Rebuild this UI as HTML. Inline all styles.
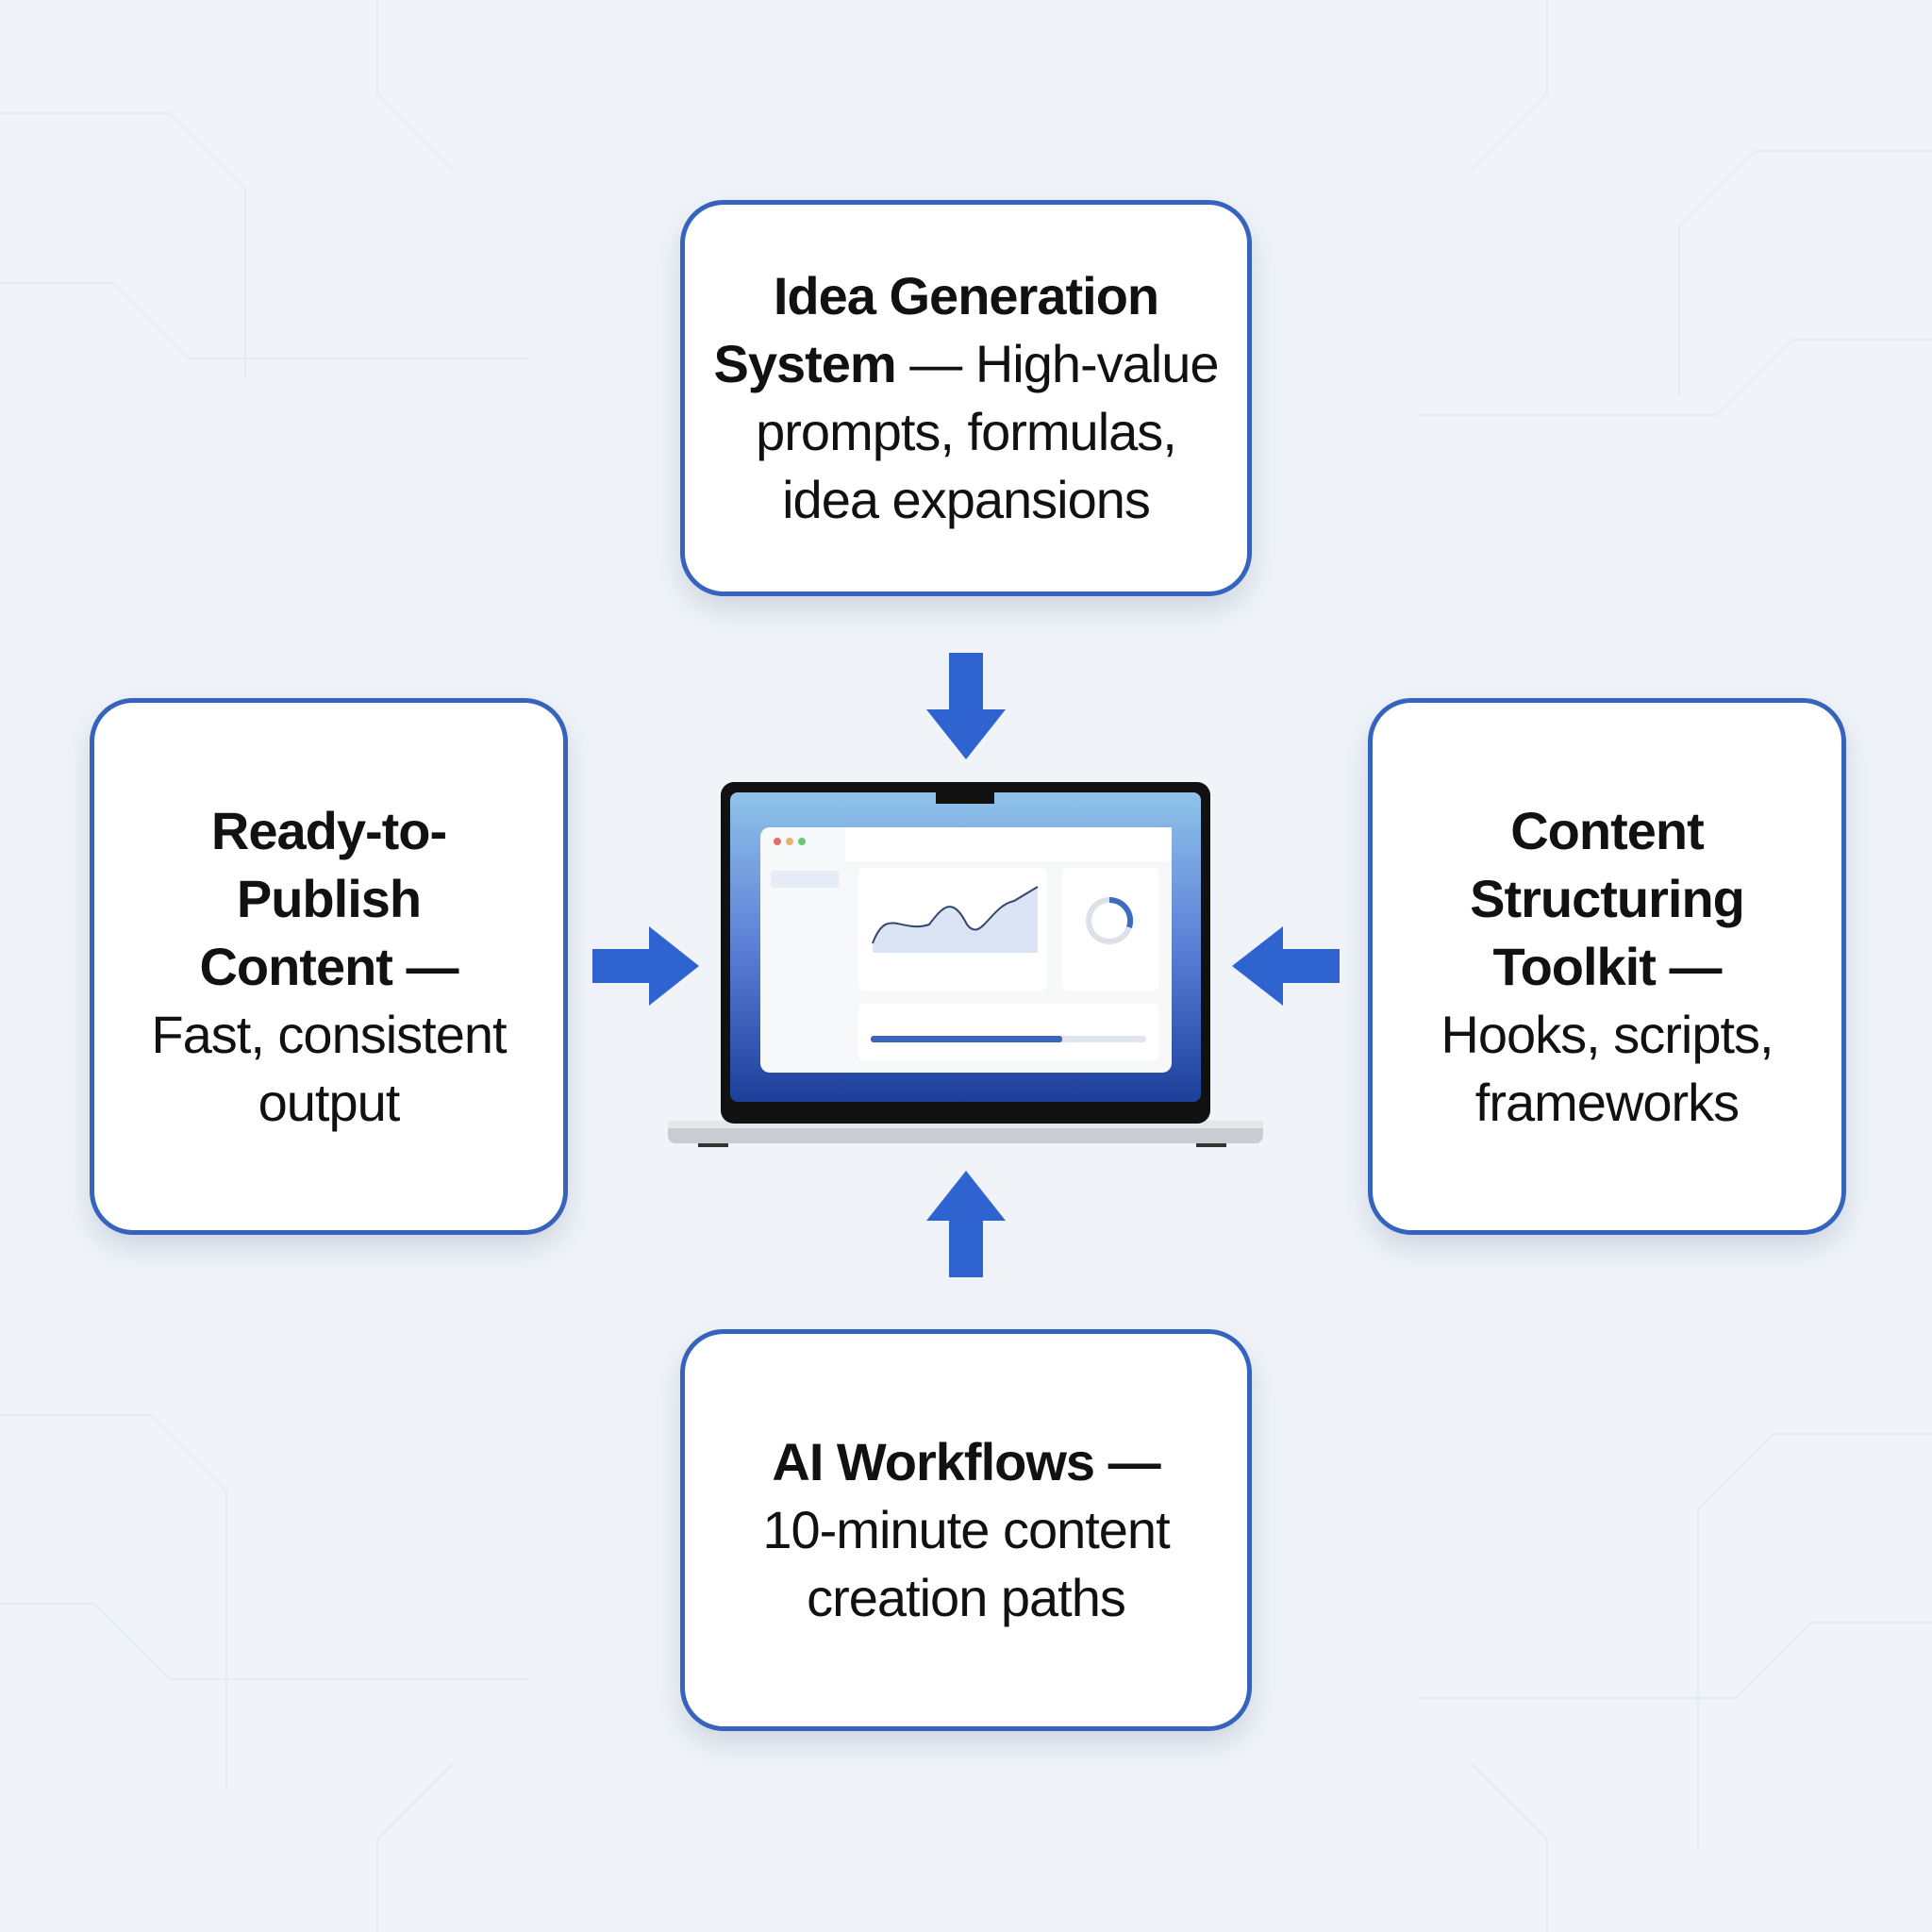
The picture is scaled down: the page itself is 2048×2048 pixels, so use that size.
<!DOCTYPE html>
<html><head><meta charset="utf-8"><style>
html,body{margin:0;padding:0}
body{width:2048px;height:2048px;position:relative;overflow:hidden;background:#f0f4f9;font-family:"Liberation Sans",sans-serif}
.box{position:absolute;box-sizing:border-box;border:5px solid #3563bd;border-radius:46px;background:#fff;box-shadow:0 14px 30px rgba(60,80,120,.18);display:flex;align-items:center;justify-content:center;text-align:center;font-size:56px;line-height:72px;letter-spacing:-1px;color:#111}
.box b{font-weight:700}
.arr{position:absolute}
</style></head><body>
<svg style="position:absolute;left:0;top:0" width="2048" height="2048">
<g stroke="#e6ebf2" stroke-width="2" fill="none">
<path d="M0 120 L180 120 L260 200 L260 400"/><path d="M0 300 L120 300 L200 380 L560 380"/>
<path d="M2048 160 L1860 160 L1780 240 L1780 420"/><path d="M2048 360 L1900 360 L1820 440 L1500 440"/>
<path d="M0 1500 L160 1500 L240 1580 L240 1900"/><path d="M0 1700 L100 1700 L180 1780 L560 1780"/>
<path d="M2048 1520 L1880 1520 L1800 1600 L1800 1960"/><path d="M2048 1720 L1920 1720 L1840 1800 L1500 1800"/>
<path d="M400 0 L400 100 L480 180"/><path d="M1640 0 L1640 100 L1560 180"/>
<path d="M400 2048 L400 1950 L480 1870"/><path d="M1640 2048 L1640 1950 L1560 1870"/>
</g></svg>

<div class="box" style="left:721px;top:212px;width:606px;height:420px"><div><b>Idea Generation<br>System</b> — High-value<br>prompts, formulas,<br>idea expansions</div></div>
<div class="box" style="left:95px;top:740px;width:507px;height:569px"><div><b>Ready-to-<br>Publish<br>Content —</b><br>Fast, consistent<br>output</div></div>
<div class="box" style="left:1450px;top:740px;width:507px;height:569px"><div><b>Content<br>Structuring<br>Toolkit —</b><br>Hooks, scripts,<br>frameworks</div></div>
<div class="box" style="left:721px;top:1409px;width:606px;height:426px"><div><b>AI Workflows —</b><br>10-minute content<br>creation paths</div></div>

<svg class="arr" style="left:0;top:0" width="2048" height="2048">
<g fill="#2f63d0">
<path d="M1006 692 H1042 V752 H1066 L1024 805 L982 752 H1006 Z"/>
<path d="M1006 1354 H1042 V1294 H1066 L1024 1241 L982 1294 H1006 Z"/>
<path d="M628 1006 V1042 H688 V1066 L741 1024 L688 982 V1006 Z"/>
<path d="M1420 1006 V1042 H1360 V1066 L1306 1024 L1360 982 V1006 Z"/>
</g>
<rect x="708" y="1188" width="631" height="24" rx="8" fill="#c9ccd2"/>
<rect x="708" y="1188" width="631" height="8" fill="#e4e6ea"/>
<rect x="740" y="1212" width="32" height="4" fill="#333"/><rect x="1268" y="1212" width="32" height="4" fill="#333"/>
<rect x="764" y="829" width="519" height="362" rx="14" fill="#111"/>
<defs><linearGradient id="sg" x1="0" y1="0" x2="0" y2="1"><stop offset="0" stop-color="#8fc3ea"/><stop offset=".5" stop-color="#5b7fd6"/><stop offset="1" stop-color="#1c3f9a"/></linearGradient></defs>
<rect x="774" y="840" width="499" height="328" rx="8" fill="url(#sg)"/>
<rect x="992" y="838" width="62" height="14" fill="#111"/>
<rect x="806" y="877" width="436" height="260" rx="10" fill="#f7f8fa"/>
<rect x="896" y="877" width="346" height="36" fill="#fff"/>
<circle cx="824" cy="892" r="4" fill="#e86a6a"/><circle cx="837" cy="892" r="4" fill="#e8b06a"/><circle cx="850" cy="892" r="4" fill="#6ac47a"/>
<rect x="817" y="923" width="72" height="18" rx="3" fill="#e6ecf5"/>
<rect x="910" y="920" width="200" height="130" rx="6" fill="#fff"/>
<rect x="1126" y="920" width="102" height="130" rx="6" fill="#fff"/>
<path d="M925 1000 C940 960,955 990,985 980 C1000 960,1010 950,1025 980 C1040 1000,1050 960,1075 955 L1100 940 L1100 1010 L925 1010 Z" fill="#dbe4f5"/>
<path d="M925 1000 C940 960,955 990,985 980 C1000 960,1010 950,1025 980 C1040 1000,1050 960,1075 955 L1100 940" stroke="#34466e" stroke-width="2" fill="none"/>
<circle cx="1176" cy="976" r="22" stroke="#dde2ea" stroke-width="6" fill="none"/>
<path d="M1176 954 A22 22 0 0 1 1197 983" stroke="#3d6bc0" stroke-width="6" fill="none"/>
<rect x="910" y="1064" width="318" height="60" rx="6" fill="#fff"/>
<rect x="923" y="1098" width="292" height="7" rx="3" fill="#e1e5ec"/>
<rect x="923" y="1098" width="203" height="7" rx="3" fill="#3a65b8"/>
</svg>
</body></html>
